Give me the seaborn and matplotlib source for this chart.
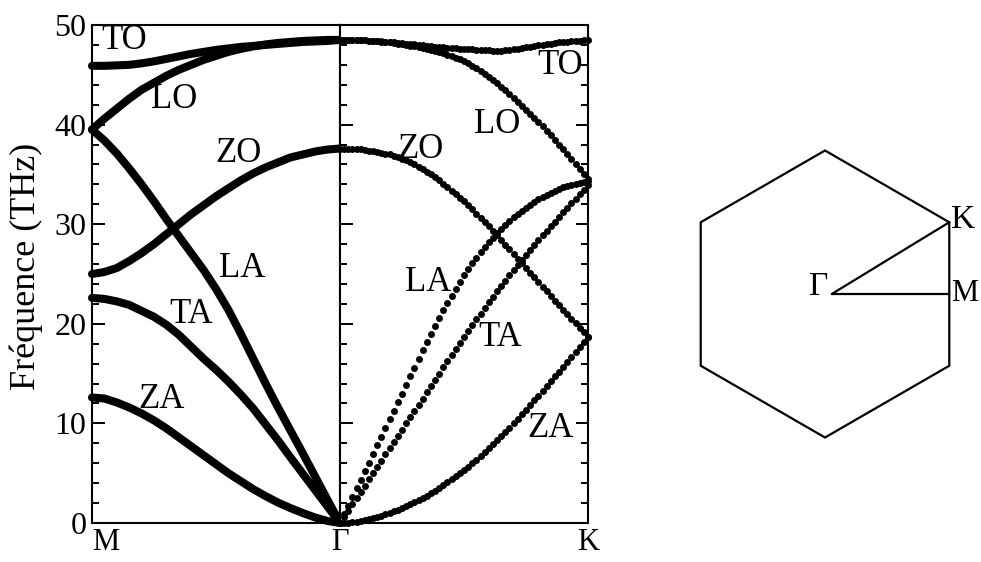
import numpy as np
import pandas as pd
import matplotlib
matplotlib.use("Agg")
import matplotlib.pyplot as plt
import seaborn as sns

# ---------------- phonon branches, frequency in THz ----------------
branches = ["ZA", "TA", "LA", "ZO", "LO", "TO"]

# M -> Gamma (21 samples from M to Gamma)
mg_ZA = [12.6, 12.5, 12.1, 11.6, 11.0, 10.3, 9.5, 8.6, 7.7, 6.8, 5.9,
         5.0, 4.2, 3.4, 2.7, 2.05, 1.5, 1.0, 0.55, 0.2, 0.0]
mg_TA = [22.6, 22.5, 22.25, 21.9, 21.3, 20.7, 19.9, 18.9, 17.7, 16.5, 15.4,
         14.2, 12.9, 11.5, 9.9, 8.3, 6.6, 4.95, 3.3, 1.65, 0.0]
mg_LA = [39.5, 38.4, 37.1, 35.6, 34.0, 32.3, 30.5, 28.8, 27.1, 25.4, 23.5,
         21.4, 19.0, 16.5, 14.0, 11.6, 9.3, 7.0, 4.65, 2.3, 0.0]
mg_ZO = [25.0, 25.2, 25.6, 26.3, 27.1, 28.0, 29.0, 30.0, 31.0, 31.9, 32.8,
         33.6, 34.4, 35.1, 35.7, 36.2, 36.7, 37.0, 37.3, 37.5, 37.6]
mg_LO = [39.5, 40.6, 41.6, 42.6, 43.5, 44.2, 44.9, 45.5, 46.0, 46.5, 46.9,
         47.3, 47.6, 47.85, 48.05, 48.2, 48.3, 48.4, 48.45, 48.5, 48.5]
mg_TO = [45.9, 45.9, 45.95, 46.0, 46.15, 46.35, 46.6, 46.85, 47.1, 47.3, 47.5,
         47.65, 47.8, 47.9, 48.0, 48.1, 48.2, 48.3, 48.35, 48.4, 48.5]

# Gamma -> K (61 samples from Gamma to K)
gk_ZA = [0.00, 0.01, 0.03, 0.08, 0.13, 0.21, 0.30, 0.40, 0.50, 0.61, 0.73,
         0.86, 1.00, 1.16, 1.33, 1.50, 1.69, 1.89, 2.10, 2.31, 2.53, 2.76,
         3.00, 3.25, 3.50, 3.78, 4.07, 4.37, 4.67, 4.98, 5.30, 5.65, 6.00,
         6.36, 6.73, 7.11, 7.50, 7.90, 8.31, 8.72, 9.14, 9.57, 10.00, 10.45,
         10.91, 11.37, 11.84, 12.32, 12.80, 13.28, 13.76, 14.24, 14.72, 15.21,
         15.70, 16.20, 16.70, 17.20, 17.70, 18.20, 18.70]
gk_TA = [0.0, 0.63, 1.25, 1.88, 2.5, 3.13, 3.75, 4.38, 5.0, 5.63, 6.25,
         6.88, 7.5, 8.13, 8.75, 9.38, 10.0, 10.63, 11.25, 11.88, 12.5, 13.13,
         13.75, 14.38, 15.0, 15.62, 16.23, 16.85, 17.47, 18.08, 18.7, 19.28,
         19.87, 20.45, 21.03, 21.62, 22.2, 22.73, 23.27, 23.8, 24.33, 24.87,
         25.4, 25.9, 26.4, 26.9, 27.4, 27.9, 28.4, 28.87, 29.33, 29.8, 30.27,
         30.73, 31.2, 31.65, 32.1, 32.55, 33.0, 33.45, 33.9]
gk_LA = [0.0, 0.87, 1.73, 2.6, 3.47, 4.33, 5.2, 6.07, 6.93, 7.8, 8.67,
         9.53, 10.4, 11.27, 12.13, 13.0, 13.87, 14.73, 15.6, 16.46, 17.32,
         18.16, 19.0, 19.82, 20.6, 21.35, 22.08, 22.8, 23.5, 24.2, 24.9, 25.5,
         26.08, 26.64, 27.18, 27.7, 28.2, 28.65, 29.08, 29.5, 29.9, 30.3,
         30.7, 31.03, 31.35, 31.66, 31.95, 32.23, 32.5, 32.73, 32.94, 33.14,
         33.34, 33.52, 33.7, 33.82, 33.93, 34.03, 34.13, 34.22, 34.3]
gk_ZO = [37.6, 37.6, 37.59, 37.57, 37.54, 37.5, 37.45, 37.39, 37.32, 37.25,
         37.17, 37.09, 37.0, 36.88, 36.74, 36.58, 36.4, 36.21, 36.0, 35.77,
         35.52, 35.26, 34.99, 34.7, 34.4, 34.07, 33.73, 33.38, 33.03, 32.67,
         32.3, 31.9, 31.49, 31.07, 30.65, 30.23, 29.8, 29.34, 28.87, 28.4,
         27.94, 27.47, 27.0, 26.53, 26.07, 25.6, 25.13, 24.67, 24.2, 23.73,
         23.27, 22.8, 22.33, 21.87, 21.4, 20.95, 20.5, 20.05, 19.6, 19.15, 18.7]
gk_LO = [48.5, 48.5, 48.5, 48.49, 48.48, 48.47, 48.45, 48.42, 48.39, 48.35,
         48.31, 48.28, 48.25, 48.19, 48.13, 48.06, 48.0, 47.93, 47.85, 47.77,
         47.68, 47.59, 47.5, 47.4, 47.3, 47.17, 47.03, 46.88, 46.73, 46.57,
         46.4, 46.17, 45.92, 45.66, 45.39, 45.1, 44.8, 44.47, 44.13, 43.78,
         43.43, 43.07, 42.7, 42.31, 41.91, 41.51, 41.11, 40.71, 40.3, 39.85,
         39.39, 38.93, 38.46, 37.98, 37.5, 37.0, 36.5, 36.0, 35.5, 35.0, 34.5]
gk_TO = [48.5, 48.5, 48.49, 48.48, 48.47, 48.46, 48.45, 48.43, 48.4, 48.38,
         48.35, 48.33, 48.3, 48.26, 48.22, 48.18, 48.14, 48.1, 48.05, 48.01,
         47.97, 47.93, 47.88, 47.84, 47.8, 47.77, 47.73, 47.7, 47.67, 47.63,
         47.6, 47.57, 47.55, 47.52, 47.5, 47.47, 47.45, 47.43, 47.41, 47.4,
         47.44, 47.5, 47.55, 47.62, 47.68, 47.75, 47.82, 47.88, 47.95, 48.01,
         48.07, 48.13, 48.19, 48.25, 48.3, 48.34, 48.37, 48.41, 48.44, 48.47,
         48.5]

mg_values = dict(ZA=mg_ZA, TA=mg_TA, LA=mg_LA, ZO=mg_ZO, LO=mg_LO, TO=mg_TO)
gk_values = dict(ZA=gk_ZA, TA=gk_TA, LA=gk_LA, ZO=gk_ZO, LO=gk_LO, TO=gk_TO)

# branch labels: (name, position along the path, frequency)
mg_labels = [("TO", 0.13, 48.4), ("LO", 0.33, 42.5), ("ZO", 0.59, 37.1),
             ("LA", 0.605, 25.6), ("TA", 0.40, 20.9), ("ZA", 0.28, 12.4)]
gk_labels = [("TO", 0.887, 45.9), ("LO", 0.633, 40.0), ("ZO", 0.323, 37.5),
             ("LA", 0.355, 24.1), ("TA", 0.645, 18.6), ("ZA", 0.847, 9.5)]

path_points = ["M", "Γ", "K"]
y_label = "Fréquence (THz)"
y_ticks = [0, 10, 20, 30, 40, 50]


def to_frame(values):
    rows = []
    for name in branches:
        v = values[name]
        q = np.linspace(0.0, 1.0, len(v))
        rows.append(pd.DataFrame({"q": q, "freq": v, "branch": name}))
    return pd.concat(rows, ignore_index=True)


df_mg = to_frame(mg_values)
df_gk = to_frame(gk_values)

sns.set_theme(style="ticks")
plt.rcParams["font.family"] = ["Liberation Serif", "DejaVu Serif"]
plt.rcParams.update({
    "text.color": "black",
    "axes.labelcolor": "black",
    "axes.edgecolor": "black",
    "xtick.color": "black",
    "ytick.color": "black",
    "axes.linewidth": 1.5,
})

W, H = 981, 562
fig = plt.figure(figsize=(W / 100, H / 100), dpi=100)

x0, xg, x1 = 92, 340, 588
yb, yt = 523, 25
ax_l = fig.add_axes([x0 / W, 1 - yb / H, (xg - x0) / W, (yb - yt) / H])
ax_r = fig.add_axes([xg / W, 1 - yb / H, (x1 - xg) / W, (yb - yt) / H])

sns.lineplot(data=df_mg, x="q", y="freq", units="branch", estimator=None,
             sort=False, color="black", lw=5.8, solid_capstyle="round",
             clip_on=False, ax=ax_l)
sns.scatterplot(data=df_gk, x="q", y="freq", color="black", s=25,
                linewidth=0, clip_on=False, ax=ax_r)

label_fs = 25
for ax, labels in ((ax_l, mg_labels), (ax_r, gk_labels)):
    ax.set_xlim(0, 1)
    ax.set_ylim(0, 50)
    ax.set_xlabel("")
    ax.set_ylabel("")
    ax.set_yticks(y_ticks)
    ax.set_yticks(np.arange(0, 51, 2), minor=True)
    ax.tick_params(axis="y", which="major", direction="in", length=9,
                   width=1.4, labelsize=23, pad=4)
    ax.tick_params(axis="y", which="minor", direction="in", length=5,
                   width=1.4)
    ax.set_xticks([])
    for spine in ax.spines.values():
        spine.set_visible(True)
        spine.set_linewidth(1.5)
        spine.set_color("black")
    for name, q, f in labels:
        ax.text(q, f, name, ha="center", va="center", fontsize=label_fs)

ax_l.tick_params(axis="y", which="both", left=True, right=False)
ax_r.tick_params(axis="y", which="both", left=True, right=True,
                 labelleft=False)
ax_l.set_ylabel(y_label, fontsize=26)
ax_l.yaxis.set_label_coords(-0.198, 0.515)

# high-symmetry points under the path
lab_y = -0.011
ax_l.text(0.0, lab_y, path_points[0], transform=ax_l.transAxes, ha="left",
          va="top", fontsize=22)
ax_l.text(1.0, lab_y, path_points[1], transform=ax_l.transAxes,
          ha="center", va="top", fontsize=22)
ax_r.text(1.0, lab_y, path_points[2], transform=ax_r.transAxes,
          ha="center", va="top", fontsize=22)

# first Brillouin zone of the hexagonal lattice
hx0, hy0, hw, hh = 680, 130, 300, 320
cx, cy, R = 825, 294, 143.5
ax_h = fig.add_axes([hx0 / W, 1 - (hy0 + hh) / H, hw / W, hh / H])
ax_h.set_xlim((hx0 - cx) / R, (hx0 + hw - cx) / R)
ax_h.set_ylim((cy - hy0 - hh) / R, (cy - hy0) / R)
ax_h.axis("off")
ang = np.deg2rad(np.arange(30, 391, 60))
ax_h.plot(np.cos(ang), np.sin(ang), color="black", lw=1.6,
          solid_joinstyle="miter")
gamma = (0.047, 0.0)
k_pt = (np.sqrt(3) / 2, 0.5)
m_pt = (np.sqrt(3) / 2, 0.0)
ax_h.plot([k_pt[0], gamma[0], m_pt[0]], [k_pt[1], gamma[1], m_pt[1]],
          color="black", lw=1.6)
ax_h.text(gamma[0] - 0.02, gamma[1] + 0.05, "Γ", ha="right", va="center",
          fontsize=24)
ax_h.text(k_pt[0] + 0.015, k_pt[1] + 0.02, "K", ha="left", va="center",
          fontsize=24)
ax_h.text(m_pt[0] + 0.012, m_pt[1], "M", ha="left", va="center",
          fontsize=22)

fig.savefig("out.png", dpi=100)
